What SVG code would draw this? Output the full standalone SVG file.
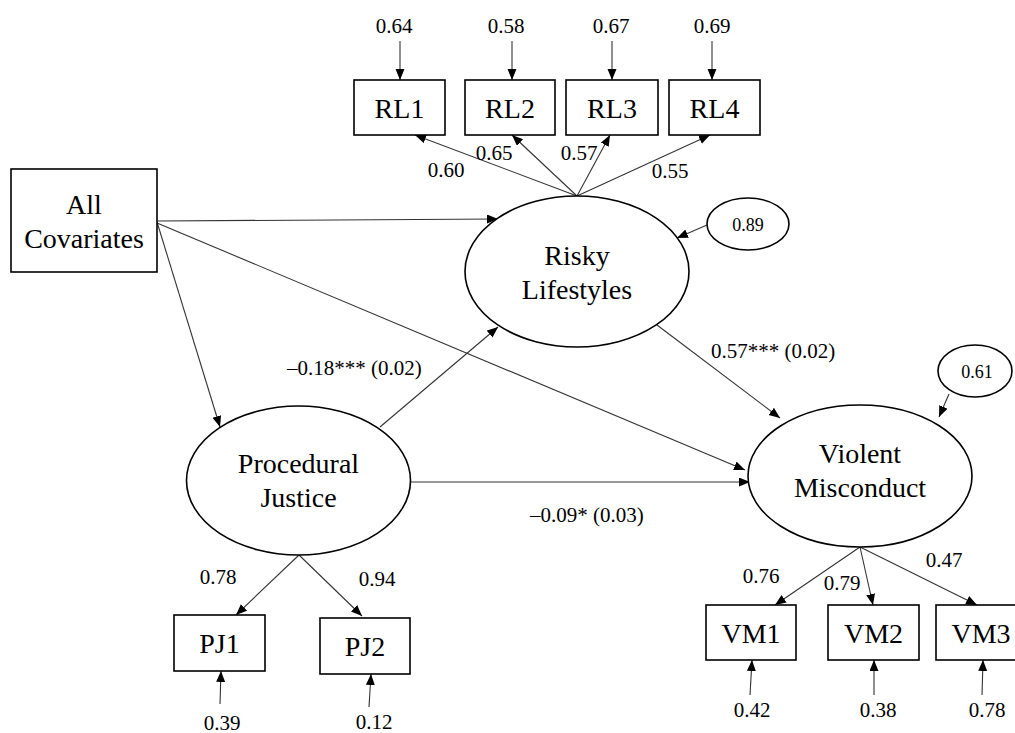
<svg xmlns="http://www.w3.org/2000/svg" width="1015" height="733" viewBox="0 0 1015 733" font-family="Liberation Serif, Times New Roman, Times, DejaVu Serif, serif">
<style>
.box{fill:#fff;stroke:#000;stroke-width:1.6}
.ell{fill:#fff;stroke:#000;stroke-width:1.6}
.big{font-size:28px;text-anchor:middle}
.num{font-size:21px;text-anchor:middle}
.coef{font-size:21px}
.sm{font-size:18px;text-anchor:middle}
.con line{stroke:#333;stroke-width:1.1;marker-end:url(#arr)}
</style>
<defs>
<marker id="arr" markerUnits="userSpaceOnUse" markerWidth="12" markerHeight="10" refX="11" refY="4.5" orient="auto">
<path d="M0,0 L11,4.5 L0,9 z" fill="#000"/>
</marker>
</defs>
<rect width="1015" height="733" fill="#fff"/>

<g id="connectors" class="con">
<line x1="400" y1="41" x2="400" y2="80"/>
<line x1="512" y1="41" x2="512" y2="80"/>
<line x1="612" y1="41" x2="612" y2="80"/>
<line x1="712" y1="41" x2="712" y2="80"/>
<line x1="577" y1="196" x2="415" y2="135"/>
<line x1="577" y1="196" x2="512" y2="135"/>
<line x1="577" y1="196" x2="610" y2="135"/>
<line x1="577" y1="196" x2="710" y2="135"/>
<line x1="157" y1="221" x2="498" y2="219"/>
<line x1="157" y1="223" x2="745" y2="470"/>
<line x1="157" y1="222" x2="220" y2="427"/>
<line x1="380" y1="427" x2="498" y2="327"/>
<line x1="410" y1="482" x2="750" y2="482"/>
<line x1="657" y1="325" x2="780" y2="418"/>
<line x1="707" y1="225" x2="677" y2="238"/>
<line x1="949" y1="394" x2="939" y2="417"/>
<line x1="299" y1="555" x2="236" y2="615"/>
<line x1="299" y1="555" x2="362" y2="616"/>
<line x1="220" y1="704" x2="221" y2="671"/>
<line x1="369" y1="707" x2="371" y2="674"/>
<line x1="860" y1="547" x2="775" y2="605"/>
<line x1="860" y1="547" x2="873" y2="605"/>
<line x1="860" y1="547" x2="977" y2="605"/>
<line x1="750" y1="695" x2="752" y2="660"/>
<line x1="874" y1="695" x2="874" y2="660"/>
<line x1="982" y1="695" x2="983" y2="660"/>
</g>

<g id="labels">
<text class="num" x="394" y="33">0.64</text>
<text class="num" x="506" y="33">0.58</text>
<text class="num" x="611" y="33">0.67</text>
<text class="num" x="712" y="33">0.69</text>
<text class="num" x="446" y="177">0.60</text>
<text class="num" x="494" y="160">0.65</text>
<text class="num" x="579" y="160">0.57</text>
<text class="num" x="670" y="178">0.55</text>
<text class="coef" x="287" y="375">–0.18*** (0.02)</text>
<text class="coef" x="711" y="358">0.57*** (0.02)</text>
<text class="coef" x="530" y="522">–0.09* (0.03)</text>
<text class="num" x="218" y="584">0.78</text>
<text class="num" x="377" y="586">0.94</text>
<text class="num" x="222" y="730">0.39</text>
<text class="num" x="374" y="729">0.12</text>
<text class="num" x="761" y="583">0.76</text>
<text class="num" x="842" y="590">0.79</text>
<text class="num" x="944" y="567">0.47</text>
<text class="num" x="752" y="717">0.42</text>
<text class="num" x="878" y="717">0.38</text>
<text class="num" x="987" y="717">0.78</text>
</g>

<g id="RL1"><rect class="box" x="354" y="80" width="91" height="55"/><text class="big" x="399.5" y="118">RL1</text></g>
<g id="RL2"><rect class="box" x="465" y="80" width="90" height="55"/><text class="big" x="510" y="118">RL2</text></g>
<g id="RL3"><rect class="box" x="566" y="80" width="92" height="55"/><text class="big" x="612" y="118">RL3</text></g>
<g id="RL4"><rect class="box" x="669" y="80" width="91" height="55"/><text class="big" x="714.5" y="118">RL4</text></g>

<g id="covariates"><rect class="box" x="11" y="169" width="146" height="103"/><text class="big" x="84" y="214">All</text><text class="big" x="84" y="248">Covariates</text></g>

<g id="risky"><ellipse class="ell" cx="577" cy="271.5" rx="112" ry="75.5"/><text class="big" x="577" y="265">Risky</text><text class="big" x="577" y="299">Lifestyles</text></g>
<g id="e_risky"><ellipse class="ell" cx="748" cy="224" rx="41" ry="26"/><text class="sm" x="748" y="231">0.89</text></g>

<g id="pj"><ellipse class="ell" cx="298.5" cy="480.5" rx="112" ry="74.5"/><text class="big" x="298.5" y="473">Procedural</text><text class="big" x="298.5" y="507">Justice</text></g>

<g id="vm"><ellipse class="ell" cx="860" cy="476" rx="112" ry="71"/><text class="big" x="860" y="463">Violent</text><text class="big" x="860" y="497">Misconduct</text></g>
<g id="e_vm"><ellipse class="ell" cx="975" cy="371" rx="37" ry="26"/><text class="sm" x="977" y="378">0.61</text></g>

<g id="PJ1"><rect class="box" x="174" y="615" width="91" height="56"/><text class="big" x="219.5" y="653">PJ1</text></g>
<g id="PJ2"><rect class="box" x="320" y="618" width="90" height="56"/><text class="big" x="365" y="656">PJ2</text></g>

<g id="VM1"><rect class="box" x="706" y="605" width="90" height="55"/><text class="big" x="751" y="643">VM1</text></g>
<g id="VM2"><rect class="box" x="828" y="605" width="91" height="55"/><text class="big" x="873.5" y="643">VM2</text></g>
<g id="VM3"><rect class="box" x="936" y="605" width="91" height="55"/><text class="big" x="981" y="643">VM3</text></g>
</svg>
